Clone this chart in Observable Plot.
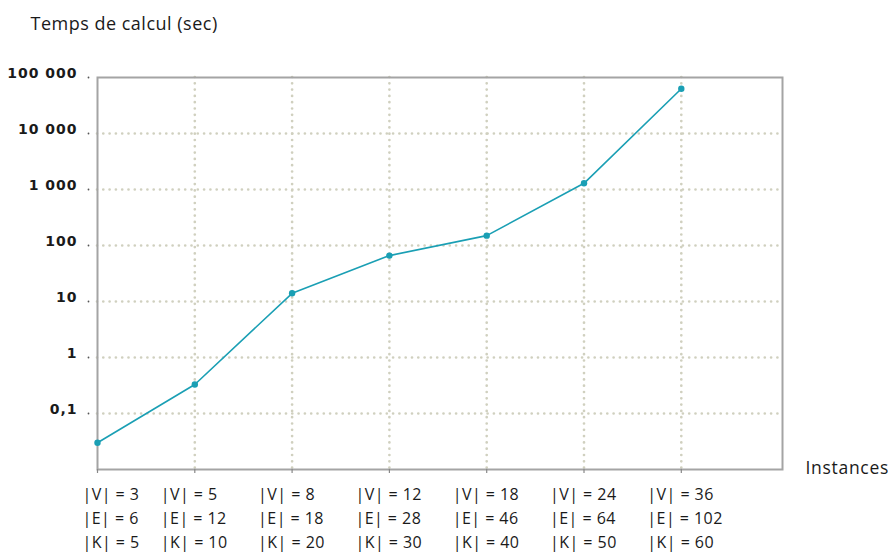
<!DOCTYPE html>
<html><head><meta charset="utf-8">
<script src="https://cdn.jsdelivr.net/npm/d3@7"></script>
<script src="https://cdn.jsdelivr.net/npm/@observablehq/plot@0.6"></script>
<style>body{margin:0;background:#fff;}</style>
</head><body><div id="chart"></div>
<script>
const instances = [0, 1, 2, 3, 4, 5, 6];
const times = [0.03, 0.33, 14, 66, 150, 1290, 63000];
const vCounts = [3, 5, 8, 12, 18, 24, 36];
const eCounts = [6, 12, 18, 28, 46, 64, 102];
const kCounts = [5, 10, 20, 30, 40, 50, 60];
const yTicks = [0.1, 1, 10, 100, 1000, 10000, 100000];
const gridY = [0.1, 1, 10, 100, 1000, 10000];
const gridX = [1, 2, 3, 4, 5, 6];
const yTitle = "Temps de calcul (sec)";
const xTitle = "Instances";

const rows = instances.map((i, k) => ({
  i, t: times[k],
  label: `|V| = ${vCounts[k]}\n|E| = ${eCounts[k]}\n|K| = ${kCounts[k]}`
}));

const frFormat = d => d >= 1
  ? d3.format(",")(d).replace(/,/g, " ")
  : String(d).replace(".", ",");

const gridStyle = {stroke: "#d0d0bf", strokeWidth: 2.7, strokeDasharray: "0,6.3", strokeLinecap: "round"};
const lineColor = "#1a9fb4";
const labelFont = {fontFamily: "Open Sans", fontSize: 16, fill: "#1a1a1a"};

const chart = Plot.plot({
  width: 888,
  height: 552,
  marginLeft: 97,
  marginRight: 106,
  marginTop: 77,
  marginBottom: 83,
  style: {fontFamily: "Open Sans", background: "#fff", overflow: "visible"},
  x: {type: "linear", domain: [0, 7.04], label: null},
  y: {type: "log", domain: [0.01, 100000], label: null},
  marks: [
    Plot.ruleY(gridY, gridStyle),
    Plot.ruleX(gridX, gridStyle),
    Plot.frame({stroke: "#a4a4a4", strokeWidth: 2}),
    Plot.axisY(yTicks, {tickSize: 0, tickPadding: 20, dy: -4, tickFormat: frFormat, label: null,
      fontFamily: "DejaVu Sans", fontWeight: "bold", fontSize: 14, fill: "#1a1a1a"}),
    Plot.dot(yTicks, {y: d => d, frameAnchor: "left", dx: -9, r: 0.9, fill: "#555", stroke: null}),
    Plot.axisX(instances, {tickSize: 4, tickFormat: () => "", label: null, stroke: "#888", strokeWidth: 1.2}),
    Plot.line(rows, {x: "i", y: "t", stroke: lineColor, strokeWidth: 1.6}),
    Plot.dot(rows, {x: "i", y: "t", r: 3.2, fill: lineColor, stroke: null}),
    Plot.text(rows.filter(d => d.i === 0), {x: "i", text: "label", frameAnchor: "bottom", dy: 47, dx: -15,
      textAnchor: "start", lineAnchor: "middle", lineHeight: 1.5, ...labelFont}),
    Plot.text(rows.filter(d => d.i !== 0), {x: "i", text: "label", frameAnchor: "bottom", dy: 47, dx: -34,
      textAnchor: "start", lineAnchor: "middle", lineHeight: 1.5, ...labelFont}),
    Plot.text([yTitle], {text: d => d, frameAnchor: "top-left", dx: -67, dy: -53,
      textAnchor: "start", lineAnchor: "middle", ...labelFont, fontSize: 18}),
    Plot.text([xTitle], {text: d => d, frameAnchor: "bottom-right", dx: 23, dy: -1,
      textAnchor: "start", lineAnchor: "middle", ...labelFont, fontSize: 17.5})
  ]
});
d3.select(chart).selectAll('g[aria-label="y-axis tick label"]').style("letter-spacing", "1px");
d3.select(chart).selectAll("text").each(function() {
  const t = this.textContent;
  if (t === yTitle) this.style.letterSpacing = "0.5px";
  else if (t === xTitle) this.style.letterSpacing = "0.7px";
  else if (t.startsWith("|V|")) this.style.letterSpacing = "0.45px";
});
document.getElementById("chart").append(chart);
</script>
</body></html>
